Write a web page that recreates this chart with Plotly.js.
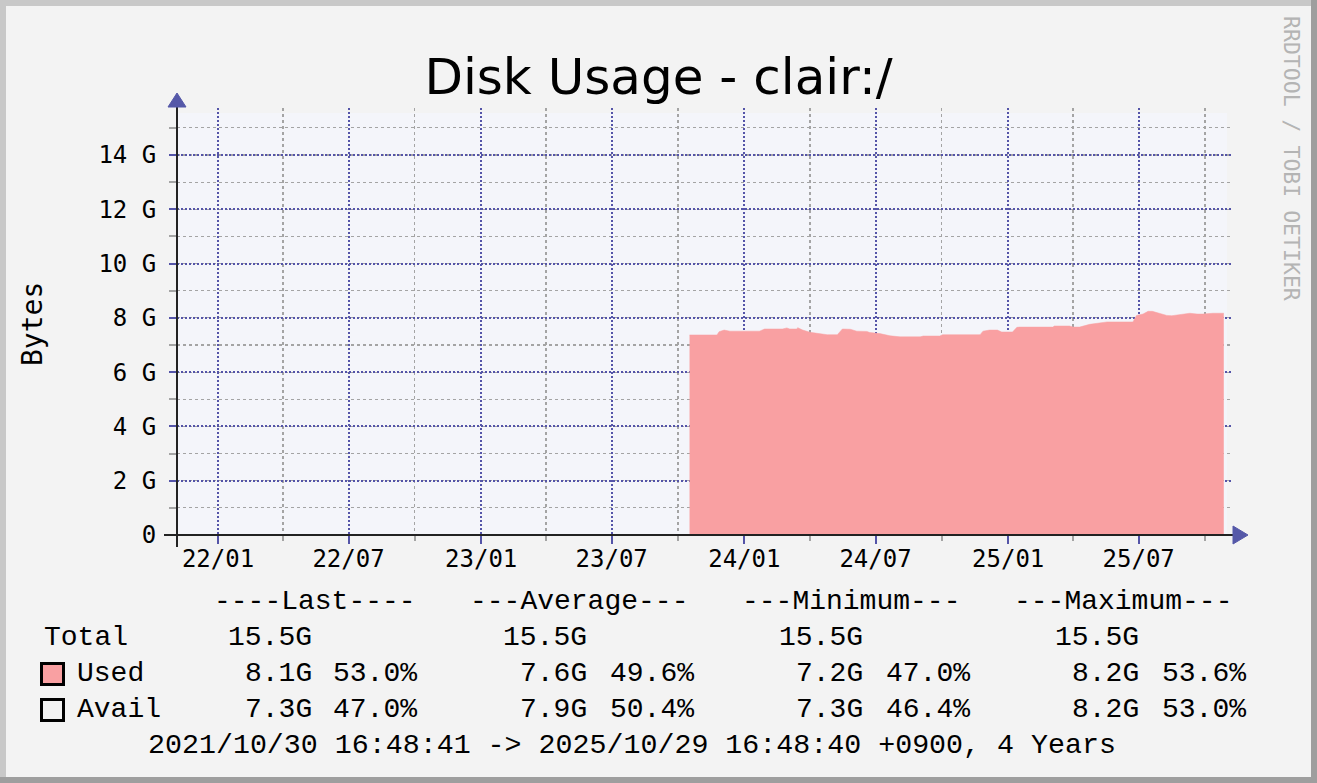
<!DOCTYPE html>
<html>
<head>
<meta charset="utf-8">
<script src="https://cdn.plot.ly/plotly-3.0.1.min.js"></script>
<style>
  html, body { margin: 0; padding: 0; background: #f3f3f3; }
  #chart { width: 1317px; height: 783px; }
</style>
</head>
<body>
<div id="chart"></div>
<script>
// ---------------- DATA ----------------
const usedDates = [
  "2023-10-17", "2023-11-24", "2023-11-27", "2023-12-04", "2023-12-12",
  "2024-01-22", "2024-01-29", "2024-02-23", "2024-02-29", "2024-03-04",
  "2024-03-14", "2024-03-15", "2024-03-22", "2024-04-01", "2024-04-11",
  "2024-04-25", "2024-05-09", "2024-05-16", "2024-05-27", "2024-06-05",
  "2024-06-19", "2024-06-23", "2024-07-07", "2024-07-21", "2024-08-04",
  "2024-09-01", "2024-09-05", "2024-09-28", "2024-10-02", "2024-11-23",
  "2024-11-27", "2024-12-06", "2024-12-17", "2024-12-23", "2025-01-07",
  "2025-01-13", "2025-01-17", "2025-03-04", "2025-03-06", "2025-03-27",
  "2025-04-01", "2025-04-10", "2025-04-24", "2025-05-08", "2025-05-18",
  "2025-06-23", "2025-06-28", "2025-07-07", "2025-07-14", "2025-07-20",
  "2025-07-30", "2025-08-09", "2025-08-16", "2025-08-30", "2025-09-10",
  "2025-09-20", "2025-09-28", "2025-10-12", "2025-10-27"
];
const usedGB = [
  7.37, 7.37, 7.49, 7.55, 7.51,
  7.51, 7.59, 7.59, 7.63, 7.59,
  7.59, 7.64, 7.55, 7.47, 7.43,
  7.38, 7.38, 7.59, 7.58, 7.51,
  7.50, 7.46, 7.42, 7.34, 7.30,
  7.30, 7.33, 7.33, 7.38, 7.38,
  7.51, 7.55, 7.55, 7.48, 7.48,
  7.65, 7.66, 7.66, 7.70, 7.70,
  7.66, 7.66, 7.76, 7.80, 7.85,
  7.85, 8.09, 8.14, 8.24, 8.24,
  8.17, 8.09, 8.08, 8.13, 8.17,
  8.14, 8.14, 8.17, 8.17
];

const yTickVals = [0, 2, 4, 6, 8, 10, 12, 14];
const yTickText = ["0", "2 G", "4 G", "6 G", "8 G", "10 G", "12 G", "14 G"];

const titleText = "Disk Usage - clair:/";
const yTitleText = "Bytes";
const watermarkText = "RRDTOOL / TOBI OETIKER";

const legendHeaders = ["----Last----", "---Average---", "---Minimum---", "---Maximum---"];
const legendRowNames = ["Total", "Used", "Avail"];
const totalValues = ["15.5G", "15.5G", "15.5G", "15.5G"];
const usedValues = ["8.1G", "7.6G", "7.2G", "8.2G"];
const usedPercents = ["53.0%", "49.6%", "47.0%", "53.6%"];
const availValues = ["7.3G", "7.9G", "7.3G", "8.2G"];
const availPercents = ["47.0%", "50.4%", "46.4%", "53.0%"];
const footerText = "2021/10/30 16:48:41 -> 2025/10/29 16:48:40 +0900, 4 Years";

// ---------------- LAYOUT HELPERS ----------------
const W = 1317, H = 783;
const PL = 177, PB = 535, PR = 1232, PT = 108; // plot area pixel box
const AX = 0, AY = 0; // anchors in paper coordinates (left / bottom of plot)

function rectPx(X0, Y0, X1, Y1, fill, lineColor, lineWidth, layer) {
  return {
    type: "rect", xref: "paper", yref: "paper",
    xsizemode: "pixel", ysizemode: "pixel", xanchor: AX, yanchor: AY,
    x0: X0 - PL, x1: X1 - PL, y0: PB - Y0, y1: PB - Y1,
    fillcolor: fill, line: { color: lineColor || "rgba(0,0,0,0)", width: lineWidth || 0 },
    layer: layer || "above"
  };
}
function linePx(X0, Y0, X1, Y1, color, width, layer) {
  return {
    type: "line", xref: "paper", yref: "paper",
    xsizemode: "pixel", ysizemode: "pixel", xanchor: AX, yanchor: AY,
    x0: X0 - PL, x1: X1 - PL, y0: PB - Y0, y1: PB - Y1,
    line: { color: color, width: width }, layer: layer || "above"
  };
}
function pathPx(points, color) {
  const d = points.map((p, i) => (i ? "L " : "M ") + (p[0] - PL) + " " + (PB - p[1])).join(" ") + " Z";
  return {
    type: "path", xref: "paper", yref: "paper",
    xsizemode: "pixel", ysizemode: "pixel", xanchor: AX, yanchor: AY,
    path: d, fillcolor: color, line: { color: color, width: 1 }, layer: "above"
  };
}
function textPx(X, Y, text, opts) {
  opts = opts || {};
  return {
    xref: "paper", yref: "paper", x: AX, y: AY,
    xshift: X - PL, yshift: PB - Y,
    xanchor: opts.xanchor || "left", yanchor: "middle",
    text: text, showarrow: false,
    font: { family: opts.family || "Liberation Mono, Courier New, monospace",
            size: opts.size || 28, color: opts.color || "#000000" },
    textangle: opts.angle || 0
  };
}

// ---------------- SHAPES ----------------
const majorGrid = "#5454a8";
const minorGrid = "#a4a4a4";
const shapes = [
  // light plot background (below gridlines)
  rectPx(177, 113, 1227, 535, "#f4f5fa", null, 0, "below"),
  // outer 3D frame
  rectPx(0, 0, W, 6, "#c8c8c8"),
  rectPx(0, 0, 6, H, "#c8c8c8"),
  rectPx(W - 6, 0, W, H, "#9e9e9e"),
  rectPx(0, H - 6, W, H, "#9e9e9e"),
  // axes lines
  linePx(164, 535, 1234, 535, "#222222", 2),
  linePx(177, 547, 177, 106, "#222222", 2),
  // arrows
  pathPx([[168, 107], [186, 107], [177, 93]], "#5558a8"),
  pathPx([[1233, 526], [1233, 544], [1248, 535]], "#5558a8"),
  // legend boxes
  rectPx(41.5, 663.5, 63.5, 684.5, "#f9a0a2", "#000000", 3),
  rectPx(41.5, 699.5, 63.5, 720.5, "#f3f3f3", "#000000", 3)
];

// ---------------- ANNOTATIONS ----------------
const annotations = [];
annotations.push(textPx(1292, 158, watermarkText,
  { xanchor: "center", family: "DejaVu Sans Mono, monospace", size: 21.5, color: "#b4b4b4", angle: 90 }));
annotations.push(textPx(32, 324, yTitleText,
  { xanchor: "center", family: "DejaVu Sans Mono, monospace", size: 28, angle: -90 }));

const headerX = [212, 468, 740, 1012];
legendHeaders.forEach((h, i) => annotations.push(textPx(headerX[i], 601, h)));

const rowY = [637, 673, 709];
annotations.push(textPx(42, rowY[0], legendRowNames[0]));
annotations.push(textPx(75, rowY[1], legendRowNames[1]));
annotations.push(textPx(75, rowY[2], legendRowNames[2]));

const valRight = [314, 589, 865, 1141];
const pctRight = [419, 696, 972, 1248];
totalValues.forEach((v, i) => annotations.push(textPx(valRight[i], rowY[0], v, { xanchor: "right" })));
usedValues.forEach((v, i) => annotations.push(textPx(valRight[i], rowY[1], v, { xanchor: "right" })));
usedPercents.forEach((v, i) => annotations.push(textPx(pctRight[i], rowY[1], v, { xanchor: "right" })));
availValues.forEach((v, i) => annotations.push(textPx(valRight[i], rowY[2], v, { xanchor: "right" })));
availPercents.forEach((v, i) => annotations.push(textPx(pctRight[i], rowY[2], v, { xanchor: "right" })));

annotations.push(textPx(146, 745, footerText, { size: 28.3 }));

// ---------------- TRACE ----------------
const traces = [{
  type: "scatter", mode: "lines",
  x: usedDates, y: usedGB,
  fill: "tozeroy", fillcolor: "#f9a0a2",
  line: { color: "#f9a0a2", width: 0.5, shape: "linear" },
  hoverinfo: "x+y", showlegend: false
}];

const pxPerG = (535 - 155) / 14;
const yTop = (535 - 108) / pxPerG;

const layout = {
  width: W, height: H,
  paper_bgcolor: "#f3f3f3",
  plot_bgcolor: "rgba(0,0,0,0)",
  margin: { l: PL, r: W - PR, t: PT, b: H - PB, pad: 0 },
  showlegend: false,
  title: {
    text: titleText, x: 0.5, xref: "container", xanchor: "center",
    y: 1 - 76 / H, yref: "container", yanchor: "middle",
    font: { family: "DejaVu Sans, sans-serif", size: 50, color: "#000000" }
  },
  xaxis: {
    type: "date",
    range: ["2021-11-05 02:00", "2025-11-07 10:00"],
    tickmode: "linear", tick0: "2022-01-01", dtick: "M6",
    tickformat: "%y/%m",
    showgrid: true, gridcolor: majorGrid, griddash: "2px,2px", gridwidth: 2,
    ticks: "outside", ticklen: 8, tickcolor: majorGrid, tickwidth: 2,
    minor: { tick0: "2022-01-01", dtick: "M3", showgrid: true, gridcolor: minorGrid,
             griddash: "3px,3px", gridwidth: 1.2, ticks: "outside", ticklen: 5, tickcolor: minorGrid },
    showline: false, zeroline: false,
    tickfont: { family: "DejaVu Sans Mono, monospace", size: 24, color: "#000000" },
    ticklabelstandoff: -6,
    fixedrange: true
  },
  yaxis: {
    range: [0, yTop],
    tickmode: "array", tickvals: yTickVals, ticktext: yTickText,
    showgrid: true, gridcolor: majorGrid, griddash: "2px,2px", gridwidth: 2,
    ticks: "outside", ticklen: 7, tickcolor: majorGrid, tickwidth: 2,
    minor: { tick0: 0, dtick: 1, showgrid: true, gridcolor: minorGrid,
             griddash: "3px,3px", gridwidth: 1.2, ticks: "outside", ticklen: 7, tickcolor: minorGrid },
    showline: false, zeroline: false,
    tickfont: { family: "DejaVu Sans Mono, monospace", size: 24, color: "#000000" },
    ticklabelstandoff: 8,
    fixedrange: true
  },
  shapes: shapes,
  annotations: annotations
};

Plotly.newPlot("chart", traces, layout, { displayModeBar: false, staticPlot: true });
</script>
</body>
</html>
